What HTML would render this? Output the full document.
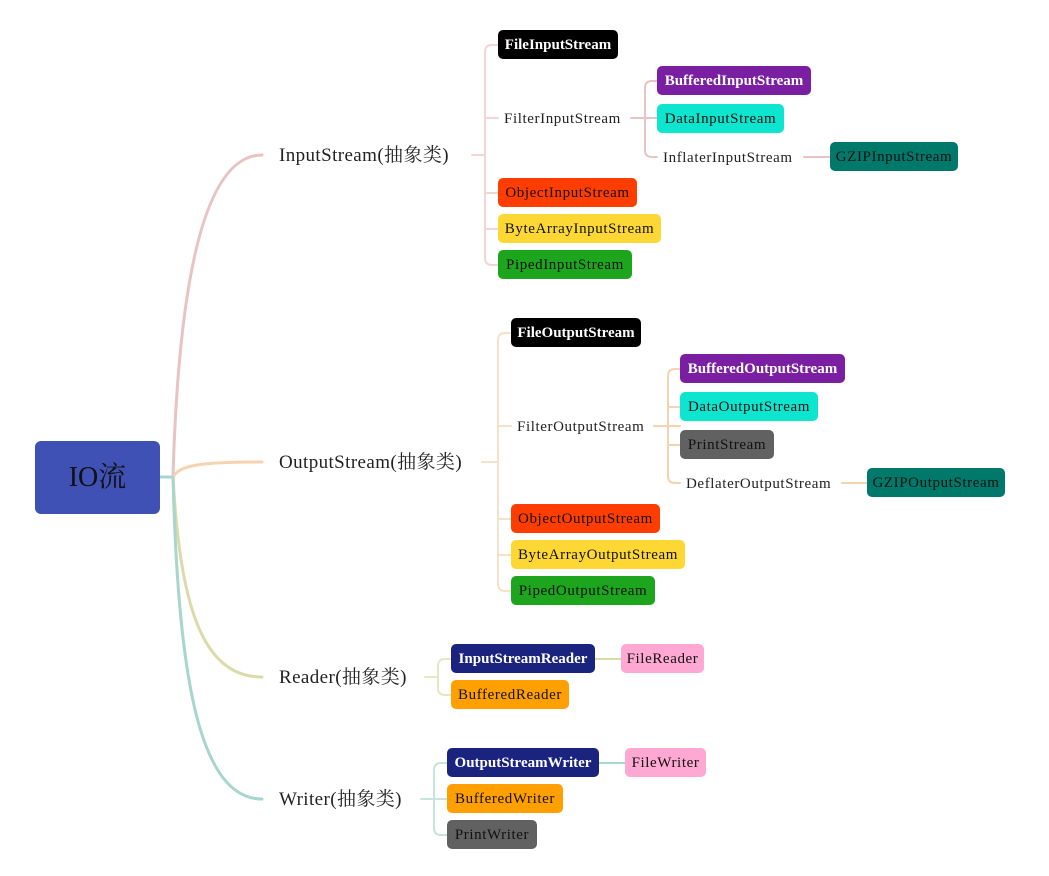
<!DOCTYPE html>
<html><head><meta charset="utf-8"><style>
body{margin:0;width:1049px;height:876px;background:#fff;position:relative;overflow:hidden;font-family:"Liberation Serif","Noto Serif CJK SC",serif;}
.b{position:absolute;height:29px;line-height:31px;border-radius:5px;text-align:center;font-size:15px;letter-spacing:0.6px;white-space:nowrap;color:#111;}
.w{color:#fff;font-weight:bold;letter-spacing:0;}
.t{position:absolute;font-size:15px;letter-spacing:0.6px;white-space:nowrap;color:#222;line-height:22px;}
.m{position:absolute;font-size:19px;letter-spacing:0.4px;white-space:nowrap;color:#222;line-height:26px;}
svg{position:absolute;left:0;top:0;}
</style></head><body>
<svg width="1049" height="876" fill="none" stroke-width="2" stroke-linecap="round">
<path d="M160 477H173" stroke="#a8d5cc" stroke-width="3"/>
<path d="M173 477C178 300 200 155 262 155" stroke="#e8c3c3" stroke-width="3"/>
<path d="M173 477C180 465 200 462 262 462" stroke="#f5d3b0" stroke-width="3"/>
<path d="M173 477C180 600 200 677 262 677" stroke="#d9dca8" stroke-width="3"/>
<path d="M173 477C178 680 200 799 262 799" stroke="#a8d5cc" stroke-width="3"/>
<g stroke="#f2d6d6">
<path d="M472 155H485M498 45H492Q485 45 485 52V258Q485 265 492 265H498M485 118H498M485 193H498M485 229H498"/>
</g>
<g stroke="#e8c3c3">
<path d="M631 118H657M657 81H652Q645 81 645 88V150Q645 157 652 157H657M804 157H830"/>
</g>
<g stroke="#f6e2c8">
<path d="M482 462H498M511 333H505Q498 333 498 340V584Q498 591 505 591H511M498 426H511M498 519H511M498 555H511"/>
</g>
<g stroke="#f5d3b0">
<path d="M654 426H680M680 369H675Q668 369 668 376V476Q668 483 675 483H680M668 407H680M668 445H680M842 483H867"/>
</g>
<g stroke="#e6e8c4">
<path d="M425 677H438M451 659H445Q438 659 438 666V688Q438 695 445 695H451"/>
</g>
<path d="M595 659H621" stroke="#d9dca8"/>
<g stroke="#c7e3dd">
<path d="M421 799H434M447 763H441Q434 763 434 770V828Q434 835 441 835H447M434 799H447"/>
</g>
<path d="M599 763H625" stroke="#a8d5cc"/>
</svg>
<div class="b" style="left:35px;top:441px;width:125px;height:73px;line-height:73px;background:#3f51b5;font-size:28px;border-radius:6px;letter-spacing:0">IO流</div>
<div class="m" style="left:279px;top:143px">InputStream(抽象类)</div>
<div class="m" style="left:279px;top:450px">OutputStream(抽象类)</div>
<div class="m" style="left:279px;top:665px">Reader(抽象类)</div>
<div class="m" style="left:279px;top:787px">Writer(抽象类)</div>

<div class="b w" style="left:498px;top:30px;width:120px;background:#000">FileInputStream</div>
<div class="t" style="left:504px;top:108px">FilterInputStream</div>
<div class="b w" style="left:657px;top:66px;width:154px;background:#7b1fa2">BufferedInputStream</div>
<div class="b" style="left:657px;top:104px;width:127px;background:#0ee5cf">DataInputStream</div>
<div class="t" style="left:663px;top:147px">InflaterInputStream</div>
<div class="b" style="left:830px;top:142px;width:128px;background:#00796b">GZIPInputStream</div>
<div class="b" style="left:498px;top:178px;width:139px;background:#ff3d00">ObjectInputStream</div>
<div class="b" style="left:498px;top:214px;width:163px;background:#fdd835">ByteArrayInputStream</div>
<div class="b" style="left:498px;top:250px;width:134px;background:#1ea51e">PipedInputStream</div>

<div class="b w" style="left:511px;top:318px;width:130px;background:#000">FileOutputStream</div>
<div class="t" style="left:517px;top:416px">FilterOutputStream</div>
<div class="b w" style="left:680px;top:354px;width:165px;background:#7b1fa2">BufferedOutputStream</div>
<div class="b" style="left:680px;top:392px;width:138px;background:#0ee5cf">DataOutputStream</div>
<div class="b" style="left:680px;top:430px;width:94px;background:#616161">PrintStream</div>
<div class="t" style="left:686px;top:473px">DeflaterOutputStream</div>
<div class="b" style="left:867px;top:468px;width:138px;background:#00796b">GZIPOutputStream</div>
<div class="b" style="left:511px;top:504px;width:149px;background:#ff3d00">ObjectOutputStream</div>
<div class="b" style="left:511px;top:540px;width:174px;background:#fdd835">ByteArrayOutputStream</div>
<div class="b" style="left:511px;top:576px;width:144px;background:#1ea51e">PipedOutputStream</div>

<div class="b w" style="left:451px;top:644px;width:144px;background:#1a237e">InputStreamReader</div>
<div class="b" style="left:621px;top:644px;width:83px;background:#ffa8d4">FileReader</div>
<div class="b" style="left:451px;top:680px;width:118px;background:#ffa000">BufferedReader</div>

<div class="b w" style="left:447px;top:748px;width:152px;background:#1a237e">OutputStreamWriter</div>
<div class="b" style="left:625px;top:748px;width:81px;background:#ffa8d4">FileWriter</div>
<div class="b" style="left:447px;top:784px;width:116px;background:#ffa000">BufferedWriter</div>
<div class="b" style="left:447px;top:820px;width:90px;background:#616161">PrintWriter</div>
</body></html>
